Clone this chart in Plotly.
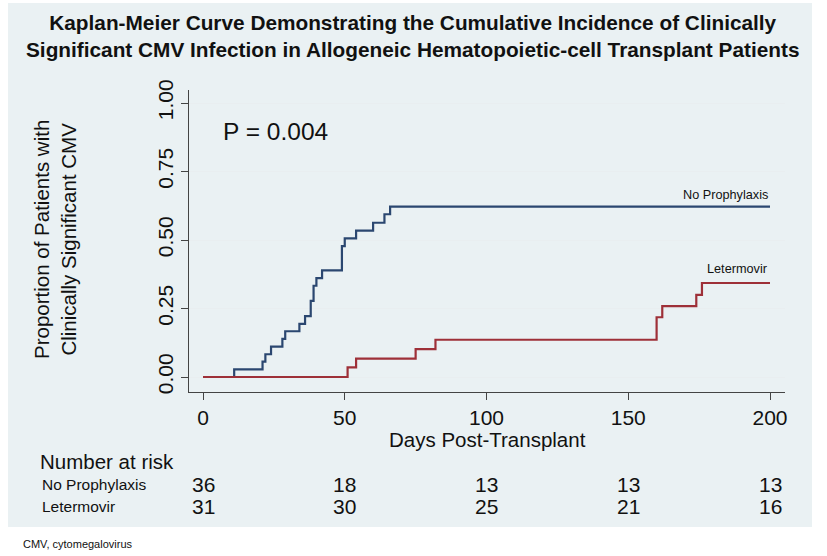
import plotly.graph_objects as go

# ---- data ----
nopro_days = [0, 11, 21, 22, 24, 28, 29, 34, 36, 38, 39, 40, 42, 49, 50, 54, 60, 64, 66, 200]
nopro_cum = [0, 0.028, 0.056, 0.083, 0.111, 0.139, 0.167, 0.194, 0.222, 0.278, 0.333,
             0.361, 0.389, 0.478, 0.506, 0.534, 0.563, 0.594, 0.622, 0.622]
leter_days = [0, 51, 54, 75, 82, 160, 162, 174, 176, 200]
leter_cum = [0, 0.035, 0.067, 0.102, 0.136, 0.218, 0.259, 0.300, 0.343, 0.343]

risk_times = [0, 50, 100, 150, 200]
risk_nopro = [36, 18, 13, 13, 13]
risk_leter = [31, 30, 25, 21, 16]
x_ticks = [0, 50, 100, 150, 200]
y_ticks = [0, 0.25, 0.5, 0.75, 1.0]

title_lines = ["Kaplan-Meier Curve Demonstrating the Cumulative Incidence of Clinically",
               "Significant CMV Infection in Allogeneic Hematopoietic-cell Transplant Patients"]

# ---- layout helpers (pixel -> paper) ----
W, H = 827, 556
L, R, T, B = 189, 785, 90, 392
def px(x):
    return (x - L) / (R - L)
def py(y):
    return (B - y) / (B - T)

BLUE = "#2b4770"
RED = "#9e3038"
FONT = "Liberation Sans, Arial, sans-serif"
def f(size):
    return dict(size=size, color="#111", family=FONT)

fig = go.Figure()
fig.add_trace(go.Scatter(x=nopro_days, y=nopro_cum, mode="lines", line_shape="hv",
                         line=dict(color=BLUE, width=2.2), showlegend=False))
fig.add_trace(go.Scatter(x=leter_days, y=leter_cum, mode="lines", line_shape="hv",
                         line=dict(color=RED, width=2.2), showlegend=False))

shapes = [dict(type="rect", xref="paper", yref="paper", x0=px(8), x1=px(812), y0=py(527), y1=py(3),
               fillcolor="#eaf1f3", line=dict(width=0), layer="below")]

ann = []
ann.append(dict(text="<b>" + title_lines[0] + "<br>" + title_lines[1] + "</b>",
                xref="paper", yref="paper", x=px(412), y=py(36), showarrow=False,
                xanchor="center", yanchor="middle", font=f(20.8)))
ann.append(dict(text="P = 0.004", xref="paper", yref="paper", x=px(221), y=py(131),
                showarrow=False, xanchor="left", yanchor="middle", font=f(24.5)))
ann.append(dict(text="No Prophylaxis", xref="x", yref="paper", x=200, y=py(195),
                showarrow=False, xanchor="right", yanchor="middle", font=f(12.7)))
ann.append(dict(text="Letermovir", xref="x", yref="paper", x=200, y=py(269),
                showarrow=False, xanchor="right", yanchor="middle", font=f(12.7)))
ann.append(dict(text="Proportion of Patients with<br>Clinically Significant CMV", xref="paper", yref="paper",
                x=px(55), y=py(240), textangle=-90, showarrow=False, xanchor="center", yanchor="middle",
                font=f(20.5)))
ann.append(dict(text="Days Post-Transplant", xref="paper", yref="paper", x=px(487), y=py(439),
                showarrow=False, xanchor="center", yanchor="middle", font=f(20.5)))
ann.append(dict(text="Number at risk", xref="paper", yref="paper", x=px(38), y=py(461),
                showarrow=False, xanchor="left", yanchor="middle", font=f(20.5)))
ann.append(dict(text="No Prophylaxis", xref="paper", yref="paper", x=px(40), y=py(484),
                showarrow=False, xanchor="left", yanchor="middle", font=f(15.5)))
ann.append(dict(text="Letermovir", xref="paper", yref="paper", x=px(40), y=py(506),
                showarrow=False, xanchor="left", yanchor="middle", font=f(15.5)))
for t, a, b in zip(risk_times, risk_nopro, risk_leter):
    ann.append(dict(text=str(a), xref="x", yref="paper", x=t, y=py(484), showarrow=False,
                    xanchor="center", yanchor="middle", font=f(21)))
    ann.append(dict(text=str(b), xref="x", yref="paper", x=t, y=py(506), showarrow=False,
                    xanchor="center", yanchor="middle", font=f(21)))
ann.append(dict(text="CMV, cytomegalovirus", xref="paper", yref="paper", x=px(21), y=py(544),
                showarrow=False, xanchor="left", yanchor="middle", font=f(11)))

x0_px, x200_px = 203, 770
dpp = 200 / (x200_px - x0_px)
y0_px, y1_px = 377, 103
vpp = 1 / (y0_px - y1_px)

fig.update_layout(
    width=W, height=H,
    margin=dict(l=L, r=W - R, t=T, b=H - B, pad=0),
    paper_bgcolor="white", plot_bgcolor="white",
    shapes=shapes, annotations=ann,
    font=dict(family=FONT, color="#111"),
    xaxis=dict(range=[-(x0_px - L) * dpp, 200 + (R - x200_px) * dpp],
               tickvals=x_ticks, ticks="outside", ticklen=7, tickcolor="#444",
               showline=True, linecolor="#444", linewidth=1, showgrid=False, zeroline=False,
               tickfont=f(21), fixedrange=True),
    yaxis=dict(range=[-(B - y0_px) * vpp, 1 + (y1_px - T) * vpp],
               tickvals=y_ticks, tickformat=".2f", tickangle=-90,
               ticks="outside", ticklen=7, tickcolor="#444",
               showline=True, linecolor="#444", linewidth=1,
               showgrid=True, gridcolor="#e9eef0", gridwidth=1, zeroline=False,
               tickfont=f(21), fixedrange=True),
)

fig.write_html("out.html", config={"displayModeBar": False},
               post_script="document.body.style.margin='0';")
